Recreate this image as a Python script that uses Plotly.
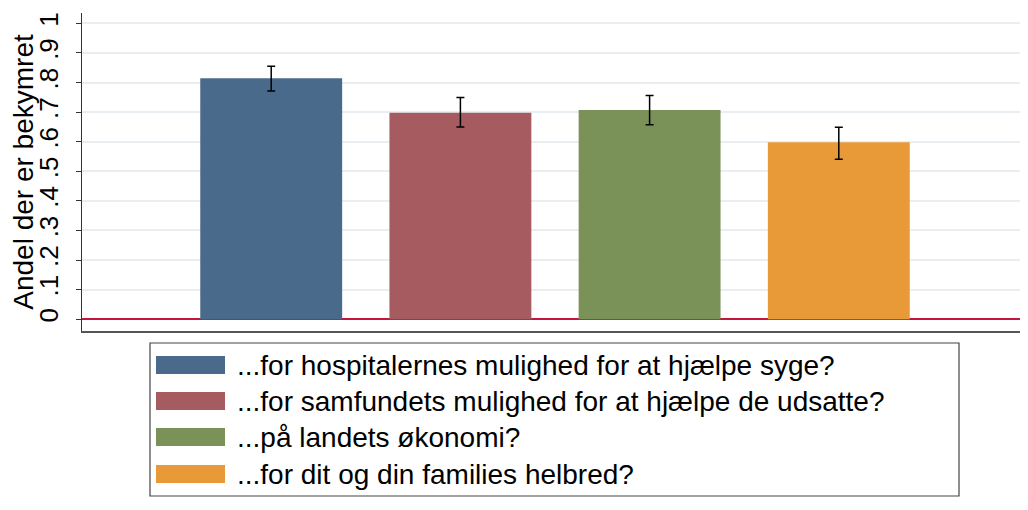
import plotly.graph_objects as go

categories = [
    "...for hospitalernes mulighed for at hjælpe syge?",
    "...for samfundets mulighed for at hjælpe de udsatte?",
    "...på landets økonomi?",
    "...for dit og din families helbred?",
]
positions = [1, 2, 3, 4]
values = [0.814, 0.698, 0.707, 0.598]
ci_low = [0.771, 0.650, 0.657, 0.541]
ci_high = [0.855, 0.749, 0.756, 0.649]
colors = ["#4a6a8b", "#a65b60", "#7a9158", "#e99a38"]

tick_vals = [0, 0.1, 0.2, 0.3, 0.4, 0.5, 0.6, 0.7, 0.8, 0.9, 1.0]
tick_text = ["0", ".1", ".2", ".3", ".4", ".5", ".6", ".7", ".8", ".9", "1"]

FONT = "Liberation Sans, Arial, Helvetica, sans-serif"

OFF = 8  # page body margin
W, H = 1028 - OFF, 510 - OFF
L, R, T, B = 82 - OFF, 0, 13 - OFF, 179


def px_x(px):
    return (px - OFF - L) / (W - L - R)


def px_y(py):
    return (H - B - (py - OFF)) / (H - B - T)


fig = go.Figure()
for cat, x, v, lo, hi, c in zip(categories, positions, values, ci_low, ci_high, colors):
    fig.add_trace(go.Bar(
        x=[x], y=[v], name=cat, width=0.75,
        marker=dict(color=c, line=dict(width=0)),
        error_y=dict(type="data", symmetric=False, array=[hi - v], arrayminus=[v - lo],
                     color="black", thickness=1.5, width=4),
        showlegend=False,
    ))

# legend drawn as a box with swatches and labels
shapes = [dict(type="rect", xref="paper", yref="paper",
               x0=px_x(150), x1=px_x(959), y0=px_y(496), y1=px_y(343),
               line=dict(color="#444444", width=1.2), fillcolor="white", layer="above")]
annotations = []
row_y = [365, 401, 437, 474]
for cat, c, ry in zip(categories, colors, row_y):
    shapes.append(dict(type="rect", xref="paper", yref="paper",
                       x0=px_x(156), x1=px_x(225), y0=px_y(ry + 9), y1=px_y(ry - 9),
                       line=dict(width=0), fillcolor=c, layer="above"))
    annotations.append(dict(xref="paper", yref="paper", x=px_x(235), y=px_y(ry),
                            text=cat, showarrow=False, xanchor="left", yanchor="middle",
                            font=dict(family=FONT, size=28, color="black")))

fig.update_layout(
    width=W, height=H,
    margin=dict(l=L, r=R, t=T, b=B, autoexpand=False),
    paper_bgcolor="white", plot_bgcolor="white",
    barmode="overlay",
    shapes=shapes, annotations=annotations,
    font=dict(family=FONT, color="black"),
    xaxis=dict(range=[0, 5], showticklabels=False, ticks="", showgrid=False,
               zeroline=False, showline=True, linecolor="#555555", linewidth=1.5),
    yaxis=dict(range=[-0.04, 1.035], tickvals=tick_vals, ticktext=tick_text,
               tickangle=-90, ticks="outside", ticklen=5, tickcolor="#333333",
               ticklabelstandoff=8,
               tickfont=dict(family=FONT, size=26, color="black"),
               showgrid=True, gridcolor="#e9eef2", gridwidth=1.5,
               zeroline=True, zerolinecolor="#c4153d", zerolinewidth=1.5,
               showline=True, linecolor="#333333", linewidth=1.2,
               title=dict(text="Andel der er bekymret", standoff=4,
                          font=dict(family=FONT, size=28, color="black"))),
)

fig.write_html("out.html")
